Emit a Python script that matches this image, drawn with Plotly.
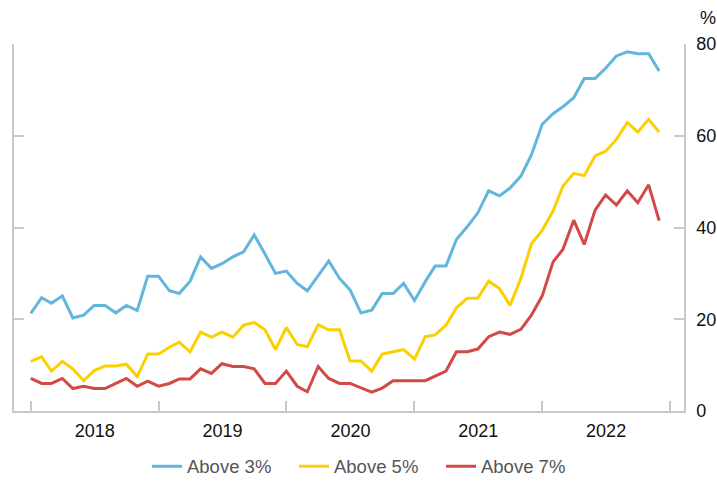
import plotly.graph_objects as go

months = [f"{y}-{m:02d}-01" for y in range(2018, 2023) for m in range(1, 13)]

above_3 = [21.3, 24.7, 23.5, 25.1, 20.3, 20.9, 23.0, 23.0, 21.4, 23.0, 21.9, 29.4,
           29.4, 26.2, 25.6, 28.3, 33.6, 31.1, 32.1, 33.6, 34.7, 38.4, 34.2, 30.0,
           30.5, 27.8, 26.2, 29.4, 32.7, 28.9, 26.4, 21.4, 22.0, 25.6, 25.6, 27.8,
           24.1, 28.2, 31.6, 31.6, 37.4, 40.2, 43.2, 48.0, 46.9, 48.6, 51.2, 55.8,
           62.5, 64.8, 66.3, 68.3, 72.5, 72.5, 74.7, 77.4, 78.3, 77.9, 77.9, 74.1]

above_5 = [10.8, 11.8, 8.7, 10.8, 9.2, 6.6, 8.8, 9.8, 9.8, 10.2, 7.5, 12.4,
           12.4, 13.9, 15.0, 12.9, 17.2, 16.1, 17.2, 16.1, 18.7, 19.3, 17.7, 13.4,
           18.2, 14.5, 14.0, 18.8, 17.7, 17.7, 10.9, 10.9, 8.7, 12.4, 12.9, 13.4,
           11.3, 16.2, 16.6, 18.7, 22.5, 24.6, 24.6, 28.3, 26.7, 23.0, 28.9, 36.4,
           39.4, 43.6, 49.0, 51.8, 51.3, 55.6, 56.6, 59.2, 62.9, 60.8, 63.6, 60.8]

above_7 = [7.1, 6.0, 6.0, 7.1, 4.9, 5.4, 4.9, 4.9, 6.0, 7.1, 5.4, 6.5,
           5.4, 6.0, 7.0, 7.0, 9.2, 8.2, 10.3, 9.7, 9.7, 9.2, 6.0, 6.0,
           8.7, 5.4, 4.2, 9.7, 7.1, 6.0, 6.0, 5.0, 4.1, 5.0, 6.6, 6.6,
           6.6, 6.6, 7.6, 8.7, 12.9, 12.9, 13.5, 16.2, 17.2, 16.7, 17.8, 20.9,
           25.1, 32.5, 35.2, 41.6, 36.3, 43.8, 47.1, 44.9, 48.0, 45.4, 49.3, 41.5]

series_names = ["Above 3%", "Above 5%", "Above 7%"]
series_colors = ["#62b6dd", "#fcd000", "#d24a45"]

y_ticks = [0, 20, 40, 60, 80]

fig = go.Figure()
for name, vals, col in zip(series_names, [above_3, above_5, above_7], series_colors):
    fig.add_trace(go.Scatter(x=months, y=vals, mode="lines", name=name,
                             line=dict(color=col, width=3)))

axis_col = "#c9c9c9"
font_fam = "Liberation Sans, Arial, sans-serif"

fig.update_layout(
    width=717, height=483,
    margin=dict(l=14, r=33, t=44, b=72, autoexpand=False),
    plot_bgcolor="white", paper_bgcolor="white",
    font=dict(family=font_fam, size=18, color="#111111"),
    showlegend=True,
    legend=dict(orientation="h", x=0.5276, xanchor="center", yref="container",
                y=0.073, yanchor="top",
                font=dict(size=18.5, color="#555555"),
                entrywidth=102, entrywidthmode="pixels"),
    xaxis=dict(type="date", range=["2017-11-14", "2023-02-10"],
               showline=True, linecolor=axis_col, linewidth=1.5,
               ticks="inside", ticklen=10, tickcolor=axis_col, tickwidth=1.5,
               dtick="M12", tick0="2018-01-01", ticklabelmode="period",
               tickformat="%Y", showgrid=False, zeroline=False, automargin=False,
               ticklabelstandoff=3,
               tickfont=dict(size=18, color="#111111")),
    yaxis=dict(side="right", range=[0, 80], tickvals=y_ticks,
               showline=True, linecolor=axis_col, linewidth=1.5, mirror="ticks",
               ticks="inside", ticklen=10, tickcolor=axis_col, tickwidth=1.5,
               showgrid=False, zeroline=False, ticklabelstandoff=7, automargin=False,
               tickfont=dict(size=18, color="#111111")),
    annotations=[dict(text="%", xref="paper", yref="paper", x=1, y=1,
                      xanchor="left", yanchor="bottom", xshift=14, yshift=14,
                      showarrow=False, font=dict(size=18, color="#111111"))],
)

fig.write_html("out.html", config={"displayModeBar": False},
               post_script="document.body.style.margin='0';document.body.style.overflow='hidden';")
